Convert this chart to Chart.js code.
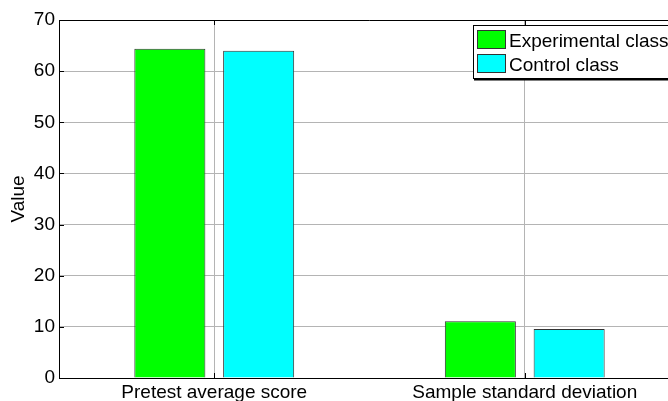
<html lang="en">
<head>
    <meta charset="UTF-8">
    <title>Pretest comparison</title>
    <style>
        html, body { margin: 0; padding: 0; overflow: hidden; background: white; }
        #wrap { width: 680px; height: 401px; }
    </style>
</head>
<body>
    <div id="wrap"><canvas id="barChart" width="680" height="401"></canvas></div>

    <script src="https://cdn.jsdelivr.net/npm/chart.js"></script>
    <script>
        const categories = ['Pretest average score', 'Sample standard deviation'];
        const experimental = [64.4, 11.1];
        const control = [64.0, 9.6];
        const seriesNames = ['Experimental class', 'Control class'];
        const seriesColors = ['#00ff00', '#00ffff'];

        Chart.defaults.font.family = '"Liberation Sans", Arial, sans-serif';
        Chart.defaults.font.size = 19;
        Chart.defaults.color = '#000';

        // top border, inward ticks and MATLAB style legend
        const frame = {
            id: 'frame',
            afterDraw(chart) {
                const ctx = chart.ctx;
                const a = chart.chartArea;
                const x = chart.scales.x, y = chart.scales.y;
                ctx.save();
                ctx.strokeStyle = '#000';
                ctx.lineWidth = 1;
                ctx.beginPath();
                ctx.moveTo(a.left, a.top + 0.5);
                ctx.lineTo(a.right, a.top + 0.5);
                y.ticks.forEach((t, i) => {
                    const py = Math.round(y.getPixelForTick(i)) + 0.5;
                    ctx.moveTo(a.left, py);
                    ctx.lineTo(a.left + 5, py);
                });
                categories.forEach((c, i) => {
                    const px = Math.round(x.getPixelForValue(i)) + 0.5;
                    ctx.moveTo(px, a.bottom);
                    ctx.lineTo(px, a.bottom - 5);
                    ctx.moveTo(px, a.top);
                    ctx.lineTo(px, a.top + 5);
                });
                ctx.stroke();

                // legend
                const lx = 473, ly = 25, lw = 240, lh = 53;
                ctx.fillStyle = '#fff';
                ctx.fillRect(lx, ly, lw, lh);
                ctx.strokeRect(lx + 0.5, ly + 0.5, lw, lh);
                ctx.lineWidth = 2;
                ctx.beginPath();
                ctx.moveTo(lx + 1, ly + lh + 1.5);
                ctx.lineTo(lx + lw, ly + lh + 1.5);
                ctx.stroke();
                ctx.lineWidth = 1;
                ctx.font = '19px "Liberation Sans", Arial, sans-serif';
                ctx.textBaseline = 'alphabetic';
                seriesNames.forEach((name, i) => {
                    const py = 30 + i * 24;
                    ctx.fillStyle = seriesColors[i];
                    ctx.fillRect(477, py, 28, 18);
                    ctx.strokeStyle = '#333';
                    ctx.strokeRect(477.5, py + 0.5, 28, 18);
                    ctx.fillStyle = '#000';
                    ctx.fillText(name, 509, py + 17);
                });
                ctx.restore();
            }
        };

        new Chart(document.getElementById('barChart'), {
            type: 'bar',
            data: {
                labels: categories,
                datasets: [{
                    label: seriesNames[0],
                    data: experimental,
                    backgroundColor: seriesColors[0],
                    borderColor: '#333',
                    borderWidth: 1,
                    categoryPercentage: 0.572,
                    barPercentage: 0.8
                }, {
                    label: seriesNames[1],
                    data: control,
                    backgroundColor: seriesColors[1],
                    borderColor: '#333',
                    borderWidth: 1,
                    categoryPercentage: 0.572,
                    barPercentage: 0.8
                }]
            },
            options: {
                responsive: false,
                animation: false,
                layout: { padding: { top: 20, left: 0, right: 0, bottom: 0 } },
                plugins: {
                    legend: { display: false },
                    tooltip: { enabled: false }
                },
                scales: {
                    x: {
                        grid: { offset: false, color: '#b4b4b4', drawTicks: false },
                        border: { color: '#000', width: 1 },
                        ticks: { padding: 3, maxRotation: 0 },
                        afterFit(s) { s.height = 23; }
                    },
                    y: {
                        min: 0,
                        max: 70,
                        ticks: { stepSize: 10, padding: 4 },
                        grid: { color: '#b4b4b4', drawTicks: false },
                        border: { color: '#000', width: 1 },
                        title: { display: true, text: 'Value', padding: { top: 7, bottom: 0 } },
                        afterFit(s) { s.width = 59; }
                    }
                }
            },
            plugins: [frame]
        });
    </script>
</body>
</html>
